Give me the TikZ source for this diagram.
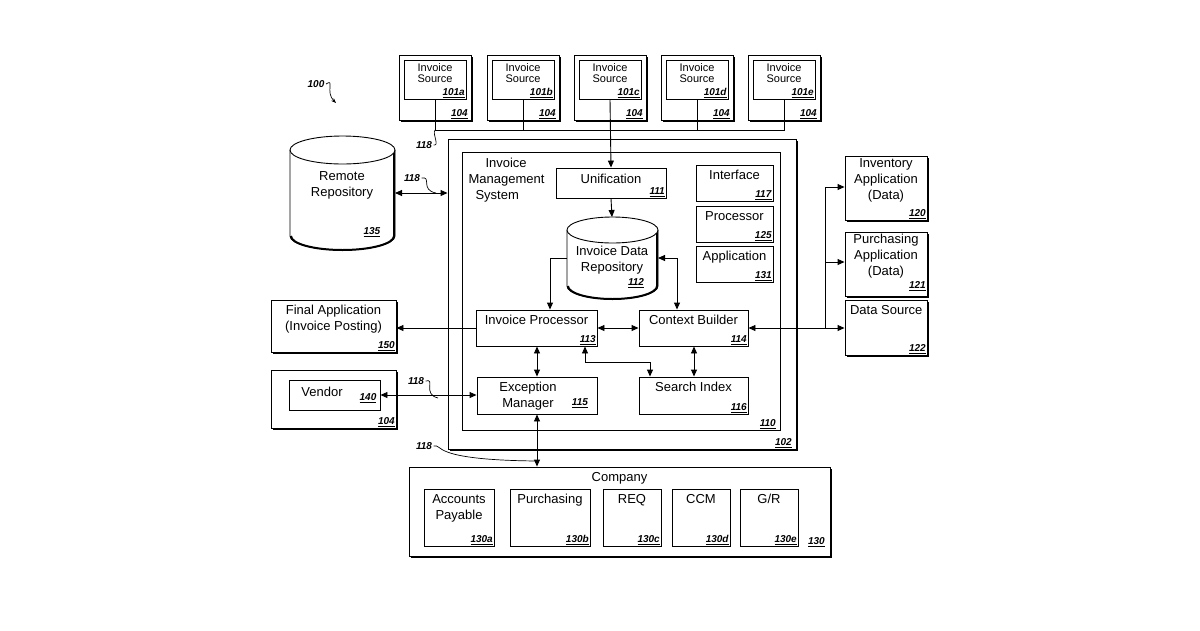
\documentclass[tikz,border=0pt]{standalone}
\usepackage{fontspec}
\setmainfont{Liberation Sans}
\usetikzlibrary{fit,shadows,arrows.meta}
\newcommand\num[1]{\underline{\textbf{\textit{#1}}}}
\tikzset{
 bx/.style={draw,line width=0.9pt,fill=white,inner sep=0pt,drop shadow={shadow xshift=2.2pt,shadow yshift=-2.2pt,fill=black,opacity=1}},
 ib/.style={draw,line width=0.9pt,fill=white,inner sep=0pt},
 t/.style={font=\fontsize{13}{16}\selectfont,align=center},
 ts/.style={font=\fontsize{11}{12}\selectfont,align=center},
 n/.style={font=\fontsize{10}{10}\selectfont,inner sep=1.5pt},
 lb/.style={font=\fontsize{10}{10}\selectfont\bfseries\itshape,inner sep=1.5pt},
 ar/.style={line width=0.9pt,-{Triangle[length=7pt,width=6pt]}},
 dar/.style={line width=0.9pt,{Triangle[length=7pt,width=6pt]}-{Triangle[length=7pt,width=6pt]}},
 ln/.style={line width=0.9pt},
 sq/.style={line width=0.7pt}
}
\newcommand\cyl[6]{% name x1 x2 ytop ybot ry
 \fill[white] (#2,#4) rectangle (#3,#5);
 \fill[white] ({(#2+#3)/2},#5) ellipse [x radius={(#3-#2)/2},y radius=#6];
 \draw[line width=2pt] (#2+1,#5) arc[start angle=180,end angle=0,x radius={(#3-#2)/2-1},y radius=#6] -- (#3-1,#4);
 \draw[line width=0.9pt] (#2,#4) -- (#2,#5) arc[start angle=180,end angle=0,x radius={(#3-#2)/2},y radius=#6] -- (#3,#4);
 \draw[line width=0.9pt,fill=white] ({(#2+#3)/2},#4) ellipse [x radius={(#3-#2)/2},y radius=#6];
 \coordinate (#1) at ({(#2+#3)/2},{(#4+#5)/2});
}
\begin{document}
\begin{tikzpicture}[x=1pt,y=-1pt]
\useasboundingbox (0,0) rectangle (1200,630);
% label 100
\node[lb] (l100) at (316,84) {100};
\coordinate (a100) at (336,103);
\draw[sq,-{Stealth[length=5pt]}] (l100.east) .. controls (335,78) and (325,92) .. (a100);

% Invoice sources
\foreach \x/\s/\c in {399/a/isa,487/b/isb,574/c/isc,661/d/isd,748/e/ise}{
 \node[bx,fit={(\x,55)(\x+72,120)}] (o\c) {};
 \node[ib,fit={(\x+5,60)(\x+67,99)}] (\c) {};
 \node[ts,anchor=north] at (\c.north) {Invoice\\[-1pt]Source};
 \node[n,anchor=south east] at (\c.south east) {\num{101\s}};
 \node[n,anchor=south east] at ([xshift=-2pt]o\c.south east) {\num{104}};
}
\coordinate (b1) at (isa.south|-0,130);
\coordinate (b5) at (ise.south|-0,130);
\draw[ln] (isa.south) -- (b1) -- (b5) -- (ise.south);
\draw[ln] (isb.south) -- (isb.south|-b1);
\draw[ln] (isd.south) -- (isd.south|-b1);
\node[lb] (l118a) at (424,145) {118};
\draw[sq] (l118a.east) .. controls (440,146) and (432,134) .. (b1);

% 102 and 110
\node[bx,fit={(448,139)(796,449)}] (s102) {};
\node[n,anchor=south east] at ([xshift=-3pt]s102.south east) {\num{102}};
\node[ib,fit={(462,152)(780,430)}] (s110) {};
\node[n,anchor=south east] at ([xshift=-3pt]s110.south east) {\num{110}};
\node[t,align=left,anchor=north west] at (465,155) {\hspace{17pt}Invoice\\Management\\\hspace{7pt}System};

\node[ib,fit={(556,168)(666,198)}] (uni) {};
\node[t,anchor=north] at ([yshift=-3pt]uni.north) {Unification};
\node[n,anchor=south east] at (uni.south east) {\num{111}};
\draw[ar] (isc.south) -- (uni.north);

\foreach \y/\tx/\nn/\nm in {165/Interface/117/itf,206/Processor/125/proc,246/Application/131/app}{
 \node[ib,fit={(696,\y)(773,\y+36)}] (\nm) {};
 \node[t,anchor=north] at ([yshift=-2pt]\nm.north) {\tx};
 \node[n,anchor=south east] at (\nm.south east) {\num{\nn}};
}

\cyl{idr}{567}{658}{230}{286}{13}
\node[t] at (612,260) {Invoice Data\\Repository};
\node[n] at (636,283) {\num{112}};
\draw[ar] (uni.south) -- (612,217);

\node[ib,fit={(476,310)(597,346)}] (ip) {};
\node[t,anchor=north] at ([yshift=-2pt]ip.north) {Invoice Processor};
\node[n,anchor=south east] at (ip.south east) {\num{113}};
\node[ib,fit={(639,310)(748,346)}] (cb) {};
\node[t,anchor=north] at ([yshift=-2pt]cb.north) {Context Builder};
\node[n,anchor=south east] at (cb.south east) {\num{114}};
\node[ib,fit={(477,377)(597,414)}] (em) {};
\node[t] at (528,396) {Exception\\Manager};
\node[n] at (580,403) {\num{115}};
\node[ib,fit={(639,377)(748,414)}] (si) {};
\node[t,anchor=north] at ([yshift=-2pt]si.north) {Search Index};
\node[n,anchor=south east] at (si.south east) {\num{116}};

\coordinate (idl) at (567,258);
\coordinate (idr2) at (658,258);
\draw[ar] (idl) -- (550,258) -- (ip.north-|550,0);
\draw[dar] (idr2) -- (677,258) -- (cb.north-|677,0);
\draw[dar] (ip.east) -- (cb.east-|cb.west);
\draw[dar] (ip.south-|537,0) -- (em.north-|537,0);
\draw[dar] (ip.south-|585,0) -- (585,362) -- (650,362) -- (si.north-|650,0);
\draw[dar] (cb.south-|694,0) -- (si.north-|694,0);

% right side
\node[bx,fit={(845,156)(927,220)}] (inv) {};
\node[t,anchor=north] at ([yshift=1pt]inv.north) {Inventory\\Application\\(Data)};
\node[n,anchor=south east] at (inv.south east) {\num{120}};
\node[bx,fit={(845,232)(927,296)}] (pur) {};
\node[t,anchor=north] at ([yshift=1pt]pur.north) {Purchasing\\Application\\(Data)};
\node[n,anchor=south east] at ([yshift=4pt]pur.south east) {\num{121}};
\node[bx,fit={(845,300)(927,355)}] (ds) {};
\node[t,anchor=north west] at ([xshift=2pt,yshift=-2pt]ds.north west) {Data Source};
\node[n,anchor=south east] at (ds.south east) {\num{122}};
\coordinate (vj) at (825,328);
\draw[dar] (cb.east) -- (ds.west|-cb.east);
\draw[ar] (vj) -- (825,187) -- (inv.west|-0,187);
\draw[ar] (825,262) -- (pur.west|-0,262);

% remote repository
\cyl{rr}{290}{395}{150}{236}{14}
\node[t] at (342,185) {Remote\\Repository};
\node[n] at (372,232) {\num{135}};
\draw[dar] (395,193) -- (s102.west|-0,193);
\node[lb] (l118b) at (412,178) {118};
\draw[sq] (l118b.east) .. controls (432,176) and (420,190) .. (436,193);

% final application
\node[bx,fit={(271,300)(396,352)}] (fa) {};
\node[t,anchor=north] at ([yshift=-2pt]fa.north) {Final Application\\(Invoice Posting)};
\node[n,anchor=south east] at (fa.south east) {\num{150}};
\draw[ar] (ip.west) -- (fa.east|-ip.west);

% vendor
\node[bx,fit={(271,370)(396,428)}] (vo) {};
\node[n,anchor=south east] at (vo.south east) {\num{104}};
\node[ib,fit={(289,380)(380,410)}] (ven) {};
\node[t] at (322,392) {Vendor};
\node[n] at (368,398) {\num{140}};
\draw[dar] (ven.east) -- (em.west|-ven.east);
\node[lb] (l118c) at (416,381) {118};
\draw[sq] (l118c.east) .. controls (436,378) and (422,394) .. (438,398);

% company
\node[bx,fit={(409,467)(830,556)}] (co) {};
\node[t,anchor=north] at ([yshift=-2pt]co.north) {Company};
\node[n,anchor=south east] at ([xshift=-4pt,yshift=8pt]co.south east) {\num{130}};
\foreach \xa/\xb/\tx/\s/\nm in {424/494/{Accounts\\Payable}/a/cap,510/590/Purchasing/b/cpu,603/661/REQ/c/crq,672/730/CCM/d/ccm,740/798/{G/R}/e/cgr}{
 \node[ib,fit={(\xa,489)(\xb,546)}] (\nm) {};
 \node[t,anchor=north] at ([yshift=-2pt]\nm.north) {\tx};
 \node[n,anchor=south east] at (\nm.south east) {\num{130\s}};
}
\draw[dar] (em.south-|537,0) -- (co.north-|537,0);
\node[lb] (l118d) at (424,446) {118};
\draw[sq] (l118d.east) .. controls (444,444) and (428,460) .. (537,461);
\end{tikzpicture}
\end{document}
